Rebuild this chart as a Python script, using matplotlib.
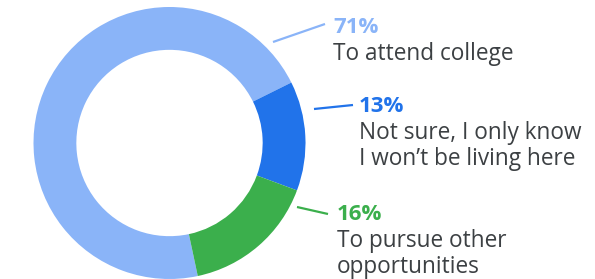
import matplotlib.pyplot as plt

# survey shares (percent)
shares = [71, 13, 16]
pct_labels = ["71%", "13%", "16%"]
descriptions = [
    ["To attend college"],
    ["Not sure, I only know", "I won\u2019t be living here"],
    ["To pursue other", "opportunities"],
]
colors = ["#8AB4F8", "#2173EA", "#3BAF4C"]
text_color = "#3C4043"

W, H = 595, 279
fig = plt.figure(figsize=(W / 100, H / 100), dpi=100)

# donut: centre (169.5, 143) px from top-left, radius 136 px
cx, cy, r = 169.5, 143, 136
ax = fig.add_axes([(cx - r) / W, (H - cy - r) / H, 2 * r / W, 2 * r / H])
ax.pie(shares, colors=colors, startangle=282, counterclock=False, radius=1,
       wedgeprops=dict(width=0.315, linewidth=0))
ax.set_xlim(-1, 1)
ax.set_ylim(-1, 1)
ax.set_aspect("equal")
ax.axis("off")

# overlay in pixel coordinates for labels
ov = fig.add_axes([0, 0, 1, 1])
ov.set_xlim(0, W)
ov.set_ylim(H, 0)
ov.axis("off")

# leader lines (start, end) and text anchor (x, pct baseline) per slice
leaders = [((273, 42), (325, 24)), ((314, 109), (353, 105)), ((297, 207), (328, 214))]
anchors = [(333, 33), (359, 112), (337, 220)]

for pct, desc, col, (p0, p1), (tx, ty) in zip(pct_labels, descriptions, colors, leaders, anchors):
    ov.plot([p0[0], p1[0]], [p0[1], p1[1]], color=col, lw=1.6, solid_capstyle="butt")
    ov.text(tx, ty, pct, color=col, fontsize=16, fontweight="bold",
            family="Open Sans", va="baseline", ha="left")
    for i, line in enumerate(desc):
        ov.text(tx, ty + 27 + 26 * i, line, color=text_color, fontsize=16.3,
                family="Open Sans", va="baseline", ha="left")

fig.savefig("out.png", dpi=100)
